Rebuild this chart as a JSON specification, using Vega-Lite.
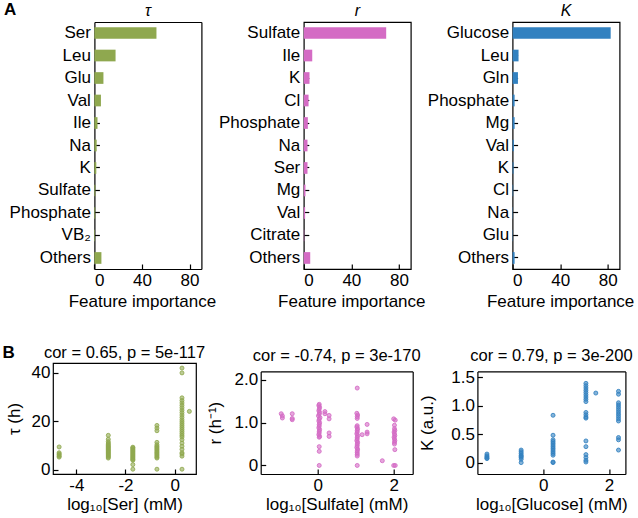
{
  "$schema": "https://vega.github.io/schema/vega-lite/v6.json",
  "padding": {"left": 2, "top": 1, "right": 0, "bottom": 0},
  "config": {
    "font": "Liberation Sans",
    "view": {"stroke": "black", "strokeWidth": 1.2},
    "axis": {"labelFontSize": 17, "titleFontSize": 17, "titleFontWeight": "normal", "labelColor": "black", "titleColor": "black", "tickColor": "black", "tickSize": -5, "tickWidth": 1.2, "domain": false, "domainColor": "black", "domainWidth": 1.2, "grid": false, "labelPadding": 8, "labelFont": "Liberation Sans", "titleFont": "Liberation Sans"},
    "title": {"fontSize": 16.5, "fontWeight": "normal", "color": "black", "font": "Liberation Sans"}
  },
  "datasets": {
    "tau": [
      {"feature": "Ser", "importance": 52.2}, {"feature": "Leu", "importance": 17.8}, {"feature": "Glu", "importance": 7.6},
      {"feature": "Val", "importance": 5.5}, {"feature": "Ile", "importance": 2.6}, {"feature": "Na", "importance": 1.9},
      {"feature": "K", "importance": 1.6}, {"feature": "Sulfate", "importance": 0.8}, {"feature": "Phosphate", "importance": 0.7},
      {"feature": "VB₂", "importance": 0.5}, {"feature": "Others", "importance": 5.9}
    ],
    "rr": [
      {"feature": "Sulfate", "importance": 69.3}, {"feature": "Ile", "importance": 7.1}, {"feature": "K", "importance": 4.8},
      {"feature": "Cl", "importance": 4.0}, {"feature": "Phosphate", "importance": 3.4}, {"feature": "Na", "importance": 3.1},
      {"feature": "Ser", "importance": 3.1}, {"feature": "Mg", "importance": 1.4}, {"feature": "Val", "importance": 1.1},
      {"feature": "Citrate", "importance": 0.4}, {"feature": "Others", "importance": 5.4}
    ],
    "kk": [
      {"feature": "Glucose", "importance": 82.5}, {"feature": "Leu", "importance": 5.0}, {"feature": "Gln", "importance": 4.5},
      {"feature": "Phosphate", "importance": 1.7}, {"feature": "Mg", "importance": 1.7}, {"feature": "Val", "importance": 1.1},
      {"feature": "K", "importance": 0.8}, {"feature": "Cl", "importance": 0.5}, {"feature": "Na", "importance": 0.3},
      {"feature": "Glu", "importance": 0.3}, {"feature": "Others", "importance": 1.7}
    ],
    "ser": [
      {"x": -4.7, "y": 9.4}, {"x": -4.7, "y": 7.0}, {"x": -4.7, "y": 6.5}, {"x": -4.7, "y": 6.1}, {"x": -4.7, "y": 5.6}, {"x": -4.7, "y": 5.2},
      {"x": -2.7, "y": 14.2}, {"x": -2.7, "y": 12.6}, {"x": -2.7, "y": 11.6}, {"x": -2.7, "y": 11.0}, {"x": -2.7, "y": 10.5}, {"x": -2.7, "y": 10.0},
      {"x": -2.7, "y": 9.6}, {"x": -2.7, "y": 9.2}, {"x": -2.7, "y": 8.8}, {"x": -2.7, "y": 8.4}, {"x": -2.7, "y": 8.0}, {"x": -2.7, "y": 7.6},
      {"x": -2.7, "y": 7.2}, {"x": -2.7, "y": 6.8}, {"x": -2.7, "y": 6.4}, {"x": -2.7, "y": 6.0}, {"x": -2.7, "y": 5.6}, {"x": -2.7, "y": 5.2}, {"x": -2.7, "y": 4.8},
      {"x": -1.7, "y": 9.3}, {"x": -1.7, "y": 9.0}, {"x": -1.7, "y": 8.6}, {"x": -1.7, "y": 8.2}, {"x": -1.7, "y": 7.8}, {"x": -1.7, "y": 7.4},
      {"x": -1.7, "y": 7.0}, {"x": -1.7, "y": 6.6}, {"x": -1.7, "y": 6.2}, {"x": -1.7, "y": 5.8}, {"x": -1.7, "y": 5.4}, {"x": -1.7, "y": 5.0},
      {"x": -1.7, "y": 4.6}, {"x": -1.7, "y": 4.2}, {"x": -1.7, "y": 3.9}, {"x": -1.7, "y": 2.1}, {"x": -1.7, "y": 0.2},
      {"x": -0.72, "y": 18.3}, {"x": -0.72, "y": 17.2}, {"x": -0.72, "y": 16.1}, {"x": -0.72, "y": 11.3}, {"x": -0.72, "y": 10.3}, {"x": -0.72, "y": 9.7},
      {"x": -0.72, "y": 9.2}, {"x": -0.72, "y": 8.7}, {"x": -0.72, "y": 8.2}, {"x": -0.72, "y": 7.7}, {"x": -0.72, "y": 7.2}, {"x": -0.72, "y": 6.7},
      {"x": -0.72, "y": 6.2}, {"x": -0.72, "y": 5.7}, {"x": -0.72, "y": 5.2}, {"x": -0.72, "y": 4.8}, {"x": -0.72, "y": 0.2},
      {"x": 0.3, "y": 42.0}, {"x": 0.3, "y": 40.0}, {"x": 0.3, "y": 29.7}, {"x": 0.3, "y": 28.6}, {"x": 0.3, "y": 27.6}, {"x": 0.3, "y": 26.6},
      {"x": 0.3, "y": 25.6}, {"x": 0.3, "y": 24.6}, {"x": 0.3, "y": 23.6}, {"x": 0.3, "y": 22.6}, {"x": 0.3, "y": 21.6}, {"x": 0.3, "y": 20.6},
      {"x": 0.3, "y": 19.8}, {"x": 0.3, "y": 19.0}, {"x": 0.3, "y": 18.2}, {"x": 0.3, "y": 17.4}, {"x": 0.3, "y": 16.6}, {"x": 0.3, "y": 15.8},
      {"x": 0.3, "y": 15.0}, {"x": 0.3, "y": 14.2}, {"x": 0.3, "y": 13.5}, {"x": 0.3, "y": 12.4}, {"x": 0.3, "y": 11.0}, {"x": 0.3, "y": 9.7},
      {"x": 0.3, "y": 8.4}, {"x": 0.3, "y": 7.0}, {"x": 0.3, "y": 6.5}, {"x": 0.3, "y": 5.6}, {"x": 0.3, "y": 0.2},
      {"x": 0.6, "y": 24.1}
    ],
    "sulf": [
      {"x": -0.96, "y": 1.21}, {"x": -0.93, "y": 1.16}, {"x": -0.93, "y": 1.11}, {"x": -0.67, "y": 1.21}, {"x": -0.67, "y": 1.10}, {"x": -0.67, "y": 1.07},
      {"x": 0.04, "y": 1.43}, {"x": 0.03, "y": 1.40}, {"x": 0.05, "y": 1.36}, {"x": 0.04, "y": 1.32}, {"x": 0.03, "y": 1.28}, {"x": 0.05, "y": 1.24},
      {"x": 0.04, "y": 1.20}, {"x": 0.02, "y": 1.16}, {"x": 0.06, "y": 1.12}, {"x": 0.04, "y": 1.08}, {"x": 0.03, "y": 1.04}, {"x": 0.05, "y": 1.00},
      {"x": 0.04, "y": 0.96}, {"x": 0.04, "y": 0.92}, {"x": 0.03, "y": 0.88}, {"x": 0.05, "y": 0.84}, {"x": 0.04, "y": 0.80}, {"x": 0.04, "y": 0.76},
      {"x": 0.03, "y": 0.72}, {"x": 0.05, "y": 0.68}, {"x": 0.04, "y": 0.66}, {"x": 0.04, "y": 0.44}, {"x": 0.04, "y": 0.33}, {"x": 0.04, "y": 0.0},
      {"x": 0.19, "y": 1.26}, {"x": 0.19, "y": 1.21}, {"x": 0.30, "y": 1.17}, {"x": 0.30, "y": 1.09}, {"x": 0.30, "y": 0.76}, {"x": 0.30, "y": 0.68},
      {"x": 1.04, "y": 1.81}, {"x": 1.03, "y": 1.22}, {"x": 1.05, "y": 1.18}, {"x": 1.04, "y": 1.14}, {"x": 1.04, "y": 1.10}, {"x": 1.04, "y": 0.93},
      {"x": 1.03, "y": 0.90}, {"x": 1.05, "y": 0.86}, {"x": 1.04, "y": 0.82}, {"x": 1.04, "y": 0.78}, {"x": 1.03, "y": 0.74}, {"x": 1.05, "y": 0.70},
      {"x": 1.04, "y": 0.66}, {"x": 1.04, "y": 0.62}, {"x": 1.03, "y": 0.58}, {"x": 1.05, "y": 0.54}, {"x": 1.04, "y": 0.50}, {"x": 1.04, "y": 0.46},
      {"x": 1.03, "y": 0.42}, {"x": 1.05, "y": 0.38}, {"x": 1.04, "y": 0.34}, {"x": 1.04, "y": 0.30}, {"x": 1.04, "y": 0.26}, {"x": 1.04, "y": 0.22},
      {"x": 1.04, "y": 0.0},
      {"x": 1.17, "y": 0.72}, {"x": 1.30, "y": 0.96}, {"x": 1.30, "y": 0.78}, {"x": 1.30, "y": 0.74}, {"x": 1.70, "y": 0.11},
      {"x": 2.0, "y": 1.09}, {"x": 2.04, "y": 1.06}, {"x": 2.02, "y": 0.94}, {"x": 2.02, "y": 0.86}, {"x": 2.03, "y": 0.82}, {"x": 2.01, "y": 0.78},
      {"x": 2.02, "y": 0.74}, {"x": 2.03, "y": 0.70}, {"x": 2.01, "y": 0.66}, {"x": 2.02, "y": 0.62}, {"x": 2.03, "y": 0.58}, {"x": 2.02, "y": 0.54},
      {"x": 2.02, "y": 0.50}, {"x": 2.03, "y": 0.37}, {"x": 2.0, "y": 0.0}, {"x": 2.04, "y": 0.0}
    ],
    "gluc": [
      {"x": -1.71, "y": 0.15}, {"x": -1.71, "y": 0.12}, {"x": -1.71, "y": 0.10}, {"x": -1.71, "y": 0.08}, {"x": -1.71, "y": 0.07},
      {"x": -0.67, "y": 0.22}, {"x": -0.67, "y": 0.19}, {"x": -0.67, "y": 0.16}, {"x": -0.67, "y": 0.13}, {"x": -0.67, "y": 0.11},
      {"x": -0.67, "y": 0.09}, {"x": -0.67, "y": 0.06}, {"x": -0.67, "y": 0.0},
      {"x": 0.30, "y": 0.83}, {"x": 0.30, "y": 0.48}, {"x": 0.30, "y": 0.40}, {"x": 0.30, "y": 0.37}, {"x": 0.30, "y": 0.34}, {"x": 0.30, "y": 0.31},
      {"x": 0.30, "y": 0.28}, {"x": 0.30, "y": 0.25}, {"x": 0.30, "y": 0.22}, {"x": 0.30, "y": 0.19}, {"x": 0.30, "y": 0.16}, {"x": 0.30, "y": 0.13},
      {"x": 0.30, "y": 0.01}, {"x": 0.30, "y": 0.0},
      {"x": 1.30, "y": 1.39}, {"x": 1.30, "y": 1.35}, {"x": 1.30, "y": 1.31}, {"x": 1.30, "y": 1.27}, {"x": 1.30, "y": 1.23}, {"x": 1.30, "y": 1.19},
      {"x": 1.30, "y": 1.15}, {"x": 1.30, "y": 1.11}, {"x": 1.30, "y": 1.07}, {"x": 1.30, "y": 0.88}, {"x": 1.30, "y": 0.84}, {"x": 1.30, "y": 0.80},
      {"x": 1.30, "y": 0.78}, {"x": 1.30, "y": 0.38}, {"x": 1.30, "y": 0.28}, {"x": 1.30, "y": 0.14}, {"x": 1.30, "y": 0.09}, {"x": 1.30, "y": 0.04},
      {"x": 1.30, "y": 0.01},
      {"x": 1.60, "y": 1.22},
      {"x": 2.29, "y": 1.25}, {"x": 2.29, "y": 1.20}, {"x": 2.29, "y": 1.05}, {"x": 2.29, "y": 1.01}, {"x": 2.29, "y": 0.97}, {"x": 2.29, "y": 0.93},
      {"x": 2.29, "y": 0.89}, {"x": 2.29, "y": 0.85}, {"x": 2.29, "y": 0.81}, {"x": 2.29, "y": 0.77}, {"x": 2.29, "y": 0.73}, {"x": 2.29, "y": 0.44},
      {"x": 2.29, "y": 0.40}, {"x": 2.29, "y": 0.22}
    ]
  },
  "vconcat": [
    {
      "title": {"text": "A", "anchor": "start", "frame": "bounds", "fontSize": 17, "fontWeight": "bold", "dx": -5, "offset": -17},
      "bounds": "flush",
      "align": "none",
      "spacing": 101.8,
      "hconcat": [
        {
          "width": 148.4, "height": 247,
          "view": {"stroke": null},
          "title": {"text": "τ", "fontStyle": "italic", "fontSize": 16, "offset": 3, "dx": 20.7},
          "data": {"name": "tau"},
          "resolve": {"axis": {"x": "independent", "y": "independent"}},
          "layer": [
            {
              "mark": {"type": "bar", "color": "#8fa84f"},
              "encoding": {
                "y": {"field": "feature", "type": "nominal", "sort": null, "scale": {"paddingInner": 0.48, "paddingOuter": 0.23}, "axis": {"title": null, "labelPadding": 9, "offset": -41.4, "domain": true}},
                "x": {"field": "importance", "type": "quantitative", "scale": {"domain": [0, 90], "range": [41.4, 148.4]}, "axis": {"values": [0, 40, 80], "title": "Feature importance", "titlePadding": 5, "titleX": 88.9, "domain": true}}
              }
            },
            {
              "mark": {"type": "bar", "opacity": 0},
              "encoding": {
                "y": {"field": "feature", "type": "nominal", "sort": null, "axis": {"orient": "right", "title": null, "labels": false, "ticks": false, "domain": true}},
                "x": {"field": "importance", "type": "quantitative", "axis": {"orient": "top", "title": null, "labels": false, "ticks": false, "domain": true}}
              }
            }
          ]
        },
        {
          "width": 107, "height": 247,
          "title": {"text": "r", "fontStyle": "italic", "fontSize": 16, "offset": 3},
          "data": {"name": "rr"},
          "mark": {"type": "bar", "color": "#d46bc4"},
          "encoding": {
            "y": {"field": "feature", "type": "nominal", "sort": null, "scale": {"paddingInner": 0.48, "paddingOuter": 0.23}, "axis": {"title": null, "labelPadding": 9}},
            "x": {"field": "importance", "type": "quantitative", "scale": {"domain": [0, 90]}, "axis": {"values": [0, 40, 80], "title": "Feature importance", "titlePadding": 5, "titleX": 47.5}}
          }
        },
        {
          "width": 107, "height": 247,
          "title": {"text": "K", "fontStyle": "italic", "fontSize": 16, "offset": 3},
          "data": {"name": "kk"},
          "mark": {"type": "bar", "color": "#3281c0"},
          "encoding": {
            "y": {"field": "feature", "type": "nominal", "sort": null, "scale": {"paddingInner": 0.48, "paddingOuter": 0.23}, "axis": {"title": null, "labelPadding": 9}},
            "x": {"field": "importance", "type": "quantitative", "scale": {"domain": [0, 90]}, "axis": {"values": [0, 40, 80], "title": "Feature importance", "titlePadding": 5, "titleX": 47.5}}
          }
        }
      ]
    },
    {
      "title": {"text": "B", "anchor": "start", "frame": "bounds", "fontSize": 17, "fontWeight": "bold", "dx": -2, "offset": -18},
      "bounds": "flush",
      "align": "none",
      "spacing": 64.7,
      "hconcat": [
        {
          "width": 143, "height": 111,
          "title": {"text": "cor = 0.65, p = 5e-117", "offset": 2},
          "data": {"name": "ser"},
          "mark": {"type": "point", "shape": "circle", "filled": true, "size": 16, "color": "#8fa84f", "fillOpacity": 0.6, "stroke": "#8fa84f", "strokeOpacity": 0.85, "strokeWidth": 1},
          "encoding": {
            "x": {"field": "x", "type": "quantitative", "scale": {"domain": [-4.95, 0.87]}, "axis": {"values": [-4, -2, 0], "labelExpr": "(datum.value < 0 ? '-' : '') + abs(datum.value)", "title": "log₁₀[Ser] (mM)", "titlePadding": 3}},
            "y": {"field": "y", "type": "quantitative", "scale": {"domain": [-1.78, 44.1]}, "axis": {"values": [0, 20, 40], "title": "τ (h)", "titlePadding": 8}}
          }
        },
        {
          "width": 152, "height": 111,
          "view": {"stroke": null},
          "title": {"text": "cor = -0.74, p = 3e-170", "offset": -1},
          "data": {"name": "sulf"},
          "resolve": {"axis": {"x": "independent", "y": "independent"}},
          "layer": [
            {
              "mark": {"type": "point", "shape": "circle", "filled": true, "size": 16, "color": "#d46bc4", "fillOpacity": 0.6, "stroke": "#d46bc4", "strokeOpacity": 0.85, "strokeWidth": 1},
              "encoding": {
                "x": {"field": "x", "type": "quantitative", "scale": {"domain": [-1.09, 2.2]}, "axis": {"values": [0, 2], "title": "log₁₀[Sulfate] (mM)", "titlePadding": 3, "domain": true}},
                "y": {"field": "y", "type": "quantitative", "scale": {"domain": [-0.082, 2.025], "range": [111, 8.4]}, "axis": {"values": [0, 1, 2], "labelExpr": "datum.value == 0 ? '0' : format(datum.value, '.1f')", "title": "r (h⁻¹)", "titlePadding": 10, "domain": true}}
              }
            },
            {
              "mark": {"type": "point", "opacity": 0},
              "encoding": {
                "x": {"field": "x", "type": "quantitative", "axis": {"orient": "top", "offset": -8.4, "title": null, "labels": false, "ticks": false, "domain": true}},
                "y": {"field": "y", "type": "quantitative", "axis": {"orient": "right", "title": null, "labels": false, "ticks": false, "domain": true}}
              }
            }
          ]
        },
        {
          "width": 148, "height": 111,
          "view": {"stroke": null},
          "title": {"text": "cor = 0.79, p = 3e-200", "offset": -1},
          "data": {"name": "gluc"},
          "resolve": {"axis": {"x": "independent", "y": "independent"}},
          "layer": [
            {
              "mark": {"type": "point", "shape": "circle", "filled": true, "size": 16, "color": "#3281c0", "fillOpacity": 0.6, "stroke": "#3281c0", "strokeOpacity": 0.85, "strokeWidth": 1},
              "encoding": {
                "x": {"field": "x", "type": "quantitative", "scale": {"domain": [-1.93, 2.5]}, "axis": {"values": [0, 2], "title": "log₁₀[Glucose] (mM)", "titlePadding": 3, "domain": true}},
                "y": {"field": "y", "type": "quantitative", "scale": {"domain": [-0.061, 1.518], "range": [111, 8.4]}, "axis": {"values": [0, 0.5, 1, 1.5], "labelExpr": "datum.value == 0 ? '0' : format(datum.value, '.1f')", "title": "K (a.u.)", "titlePadding": 14, "domain": true}}
              }
            },
            {
              "mark": {"type": "point", "opacity": 0},
              "encoding": {
                "x": {"field": "x", "type": "quantitative", "axis": {"orient": "top", "offset": -8.4, "title": null, "labels": false, "ticks": false, "domain": true}},
                "y": {"field": "y", "type": "quantitative", "axis": {"orient": "right", "title": null, "labels": false, "ticks": false, "domain": true}}
              }
            }
          ]
        }
      ]
    }
  ],
  "spacing": 33,
  "bounds": "full",
  "align": "none"
}
